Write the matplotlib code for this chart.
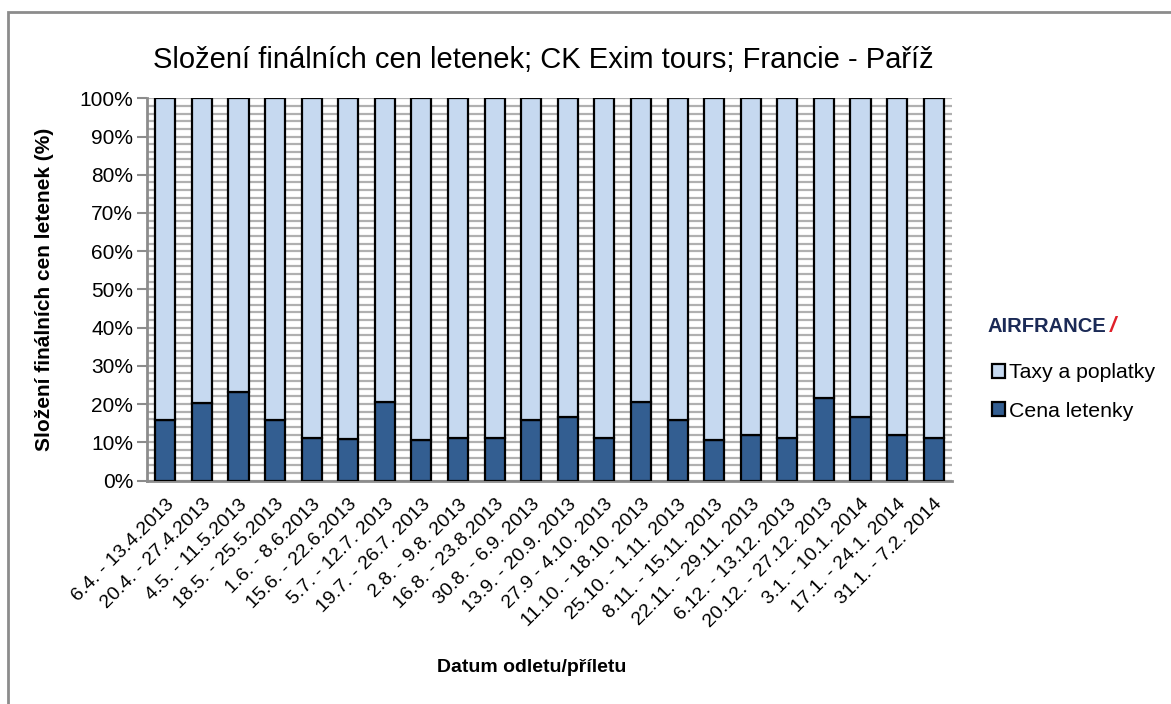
import numpy as np
import matplotlib
matplotlib.use('Agg')
from matplotlib import pyplot as plt
from matplotlib.patches import Rectangle
from matplotlib.ticker import MultipleLocator, PercentFormatter

plt.rcParams['font.family'] = ['Liberation Sans', 'DejaVu Sans']

terminy = ['6.4. - 13.4.2013', '20.4. - 27.4.2013', '4.5. - 11.5.2013', '18.5. - 25.5.2013',
           '1.6. - 8.6.2013', '15.6. - 22.6.2013', '5.7. - 12.7. 2013', '19.7. - 26.7. 2013',
           '2.8. - 9.8. 2013', '16.8. - 23.8.2013', '30.8. - 6.9. 2013', '13.9. - 20.9. 2013',
           '27.9 - 4.10. 2013', '11.10. - 18.10. 2013', '25.10. - 1.11. 2013', '8.11. - 15.11. 2013',
           '22.11. - 29.11. 2013', '6.12. - 13.12. 2013', '20.12. - 27.12. 2013', '3.1. - 10.1. 2014',
           '17.1. - 24.1. 2014', '31.1. - 7.2. 2014']
# podil ceny letenky v %
cena = [15.8, 20.2, 23.1, 15.8, 11.0, 10.9, 20.5, 10.5, 11.0, 11.0, 15.8, 16.7,
        11.0, 20.5, 15.8, 10.5, 11.8, 11.0, 21.6, 16.7, 11.8, 11.0]
taxy = [100 - c for c in cena]

DARK = '#335e91'
LIGHT = '#c6d9f0'

fig = plt.figure(figsize=(11.71, 7.04), dpi=100)

# ramecek grafu (presahuje doprava a dolu)
fig.patches.append(Rectangle((8 / 1171, -0.1), 1.2, 1 - 12 / 704 + 0.1, transform=fig.transFigure,
                             fill=False, edgecolor='#8c8c8c', linewidth=2))

ax = fig.add_axes([147 / 1171, 1 - 480.5 / 704, (952 - 147) / 1171, (480.5 - 98.3) / 704])
x = np.arange(len(terminy))
ax.bar(x, cena, width=0.55, color=DARK, edgecolor='black', linewidth=1.6, zorder=3, label='Cena letenky')
ax.bar(x, taxy, width=0.55, bottom=cena, color=LIGHT, edgecolor='black', linewidth=1.6, zorder=3,
       label='Taxy a poplatky')

ax.set_xlim(-0.5, len(terminy) - 0.5)
ax.set_ylim(0, 100)
ax.yaxis.set_major_locator(MultipleLocator(10))
ax.yaxis.set_minor_locator(MultipleLocator(2))
ax.yaxis.set_major_formatter(PercentFormatter(decimals=0))
ax.grid(axis='y', which='both', color='#b0b0b0', linewidth=1.6, zorder=0)
ax.tick_params(axis='y', which='major', length=7, color='#8c8c8c', width=1.5, labelsize=15, pad=3)
ax.tick_params(axis='y', which='minor', length=0)
ax.set_xticks(x)
ax.set_xticklabels(terminy, rotation=45, ha='right', rotation_mode='anchor', fontsize=14)
ax.tick_params(axis='x', length=0, pad=11)
for s in ['top', 'right']:
    ax.spines[s].set_visible(False)
for s in ['left', 'bottom']:
    ax.spines[s].set_color('#8c8c8c')
    ax.spines[s].set_linewidth(2)

ax.set_ylabel('Složení finálních cen letenek (%)', fontsize=15, fontweight='bold', labelpad=6)
ax.yaxis.set_label_coords(-93 / 805, 0.5)
fig.text(532 / 1171, 1 - 667 / 704, 'Datum odletu/příletu', fontsize=14, fontweight='bold',
         ha='center', va='center')
fig.text(543 / 1171, 1 - 60 / 704, 'Složení finálních cen letenek; CK Exim tours; Francie - Paříž',
         fontsize=21, ha='center', va='center')

# logo
fig.text(988 / 1171, 1 - 326 / 704, 'AIRFRANCE', fontsize=14.5, fontweight='bold', color='#1b2a56',
         ha='left', va='center')
fig.text(1110 / 1171, 1 - 326 / 704, '/', fontsize=16, fontweight='bold', color='#e0202a',
         ha='left', va='center', style='italic')

h, l = ax.get_legend_handles_labels()
fig.legend(h[::-1], l[::-1], loc='center left', bbox_to_anchor=(973 / 1171, 1 - 392 / 704),
           frameon=False, fontsize=15.3, handlelength=0.6, handleheight=0.6, handletextpad=0.2,
           labelspacing=0.9)

fig.savefig('out.png', dpi=100)
